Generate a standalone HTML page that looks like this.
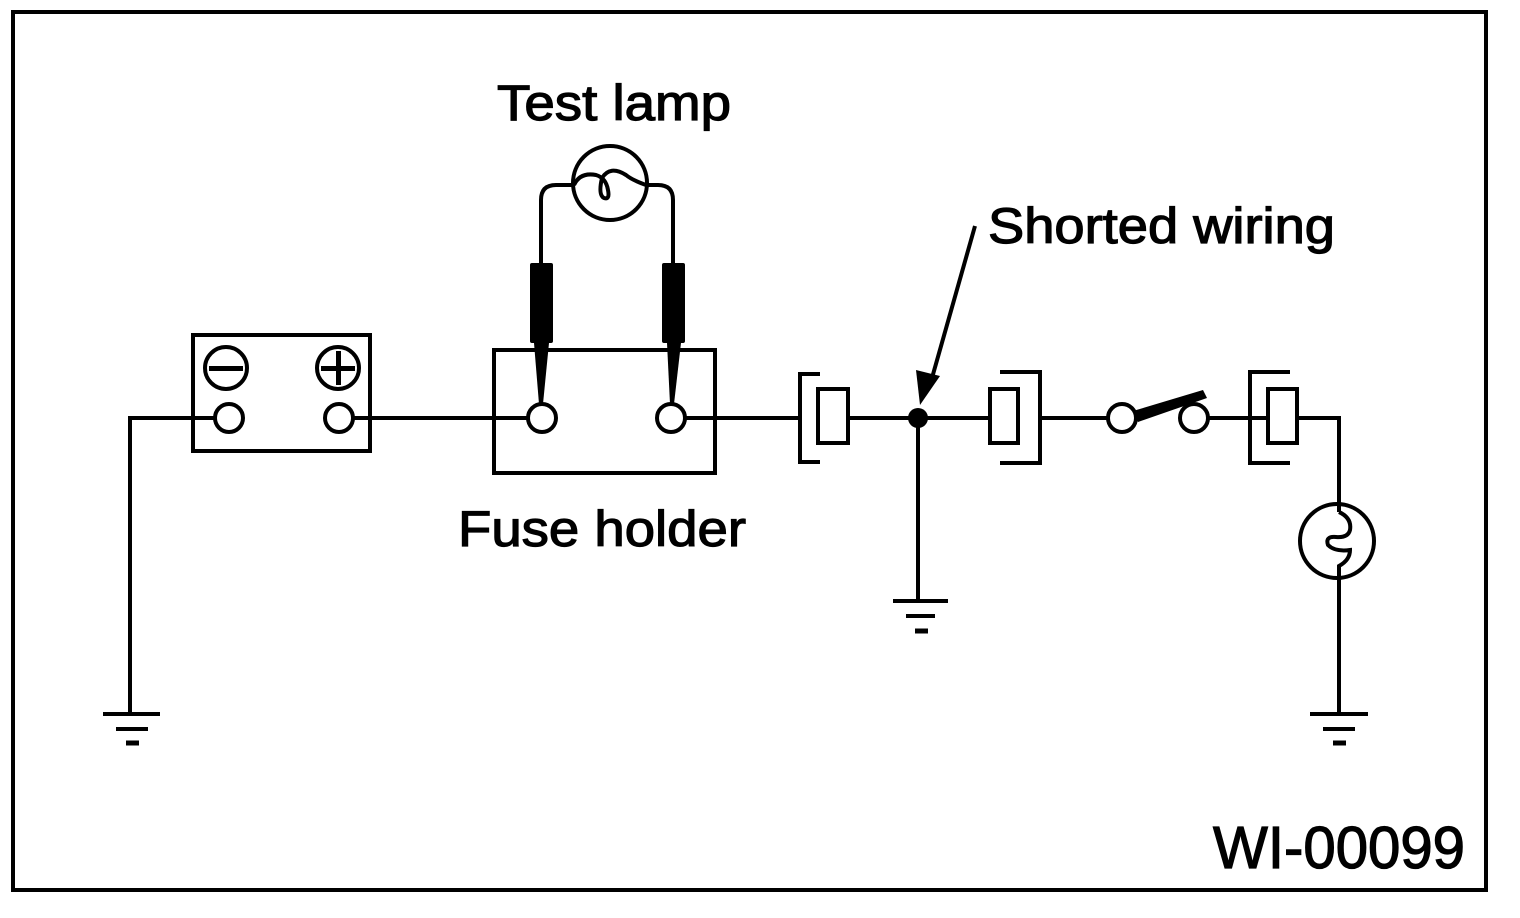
<!DOCTYPE html>
<html><head><meta charset="utf-8"><style>html,body{margin:0;padding:0;background:#fff}svg{display:block}</style></head>
<body>
<svg width="1520" height="918" viewBox="0 0 1520 918" xmlns="http://www.w3.org/2000/svg">
<rect width="1520" height="918" fill="#fff"/>
<g fill="none" stroke="#000" stroke-width="4">
<rect x="13" y="12" width="1473" height="878"/>
<polyline points="193,418 130,418 130,712"/>
<line x1="103" y1="714" x2="160" y2="714"/><line x1="116" y1="729" x2="148" y2="729"/><line x1="126" y1="743" x2="139" y2="743" stroke-width="5"/>
<rect x="193" y="335" width="177" height="116"/>
<circle cx="226" cy="368" r="21"/><circle cx="338" cy="368" r="21"/>
<circle cx="229" cy="418" r="14"/><circle cx="339" cy="418" r="14"/>
<line x1="193" y1="418" x2="215" y2="418"/>
<line x1="353" y1="418" x2="528" y2="418"/>
<rect x="494" y="350" width="221" height="123"/>
<circle cx="542" cy="418" r="14"/><circle cx="671" cy="418" r="14"/>
<line x1="685" y1="418" x2="800" y2="418"/>
<path d="M541,265 V200 Q541,185 556,185 H574"/>
<path d="M673,265 V200 Q673,185 658,185 H646"/>
<circle cx="610" cy="183" r="37"/>
<path d="M574,185 Q580,172 596,175 Q606,178 608,190 Q610,200 604,198 Q598,195 602,178 Q610,165 626,175 Q632,180 646,185"/>
<polyline points="820,374 800,374 800,462 820,462"/>
<rect x="818" y="389" width="30" height="54"/>
<line x1="848" y1="418" x2="990" y2="418"/>
<line x1="918" y1="418" x2="918" y2="600"/>
<line x1="893" y1="601" x2="948" y2="601"/><line x1="906" y1="616" x2="935" y2="616"/><line x1="915" y1="631" x2="928" y2="631" stroke-width="5"/>
<rect x="990" y="389" width="28" height="54"/>
<polyline points="1000,372 1040,372 1040,463 1000,463"/>
<line x1="1040" y1="418" x2="1108" y2="418"/>
<circle cx="1122" cy="418" r="14"/><circle cx="1194" cy="418" r="14"/>
<line x1="1208" y1="418" x2="1268" y2="418"/>
<polyline points="1290,372 1250,372 1250,463 1290,463"/>
<rect x="1268" y="389" width="29" height="54"/>
<polyline points="1297,418 1339,418 1339,512"/>
<circle cx="1337" cy="541" r="37"/>
<path d="M1339,512 Q1352,518 1350,530 Q1348,538 1336,537 Q1325,536 1328,545 Q1335,552 1350,550 Q1350,560 1339,566 V712"/>
<line x1="1310" y1="714" x2="1368" y2="714"/><line x1="1323" y1="729" x2="1355" y2="729"/><line x1="1333" y1="743" x2="1346" y2="743" stroke-width="5"/>
<line x1="975" y1="226" x2="930" y2="385"/>
</g>
<g fill="#000" stroke="none">
<rect x="209" y="366" width="34" height="5"/>
<rect x="321" y="366" width="34" height="5"/><rect x="336" y="351" width="5" height="34"/>
<rect x="530" y="263" width="23" height="80" rx="2"/>
<rect x="662" y="263" width="23" height="80" rx="2"/>
<polygon points="534,343 549,343 543,404 539,404"/>
<polygon points="667,343 681,343 674,404 670,404"/>
<circle cx="918" cy="418" r="10"/>
<polygon points="920,405 916,370 940,376"/>
<polygon points="1133,411 1203,390 1207,398 1138,422"/>
</g>
<g font-family="Liberation Sans, Arial, sans-serif" fill="#000" stroke="#000" stroke-width="1.2">
<text x="497" y="120" font-size="50" textLength="234" lengthAdjust="spacingAndGlyphs">Test lamp</text>
<text x="988" y="243" font-size="50" textLength="347" lengthAdjust="spacingAndGlyphs">Shorted wiring</text>
<text x="458" y="546" font-size="50" textLength="288" lengthAdjust="spacingAndGlyphs">Fuse holder</text>
<text x="1213" y="868" font-size="59" textLength="252" lengthAdjust="spacingAndGlyphs">WI-00099</text>
</g>
</svg>
</body></html>
